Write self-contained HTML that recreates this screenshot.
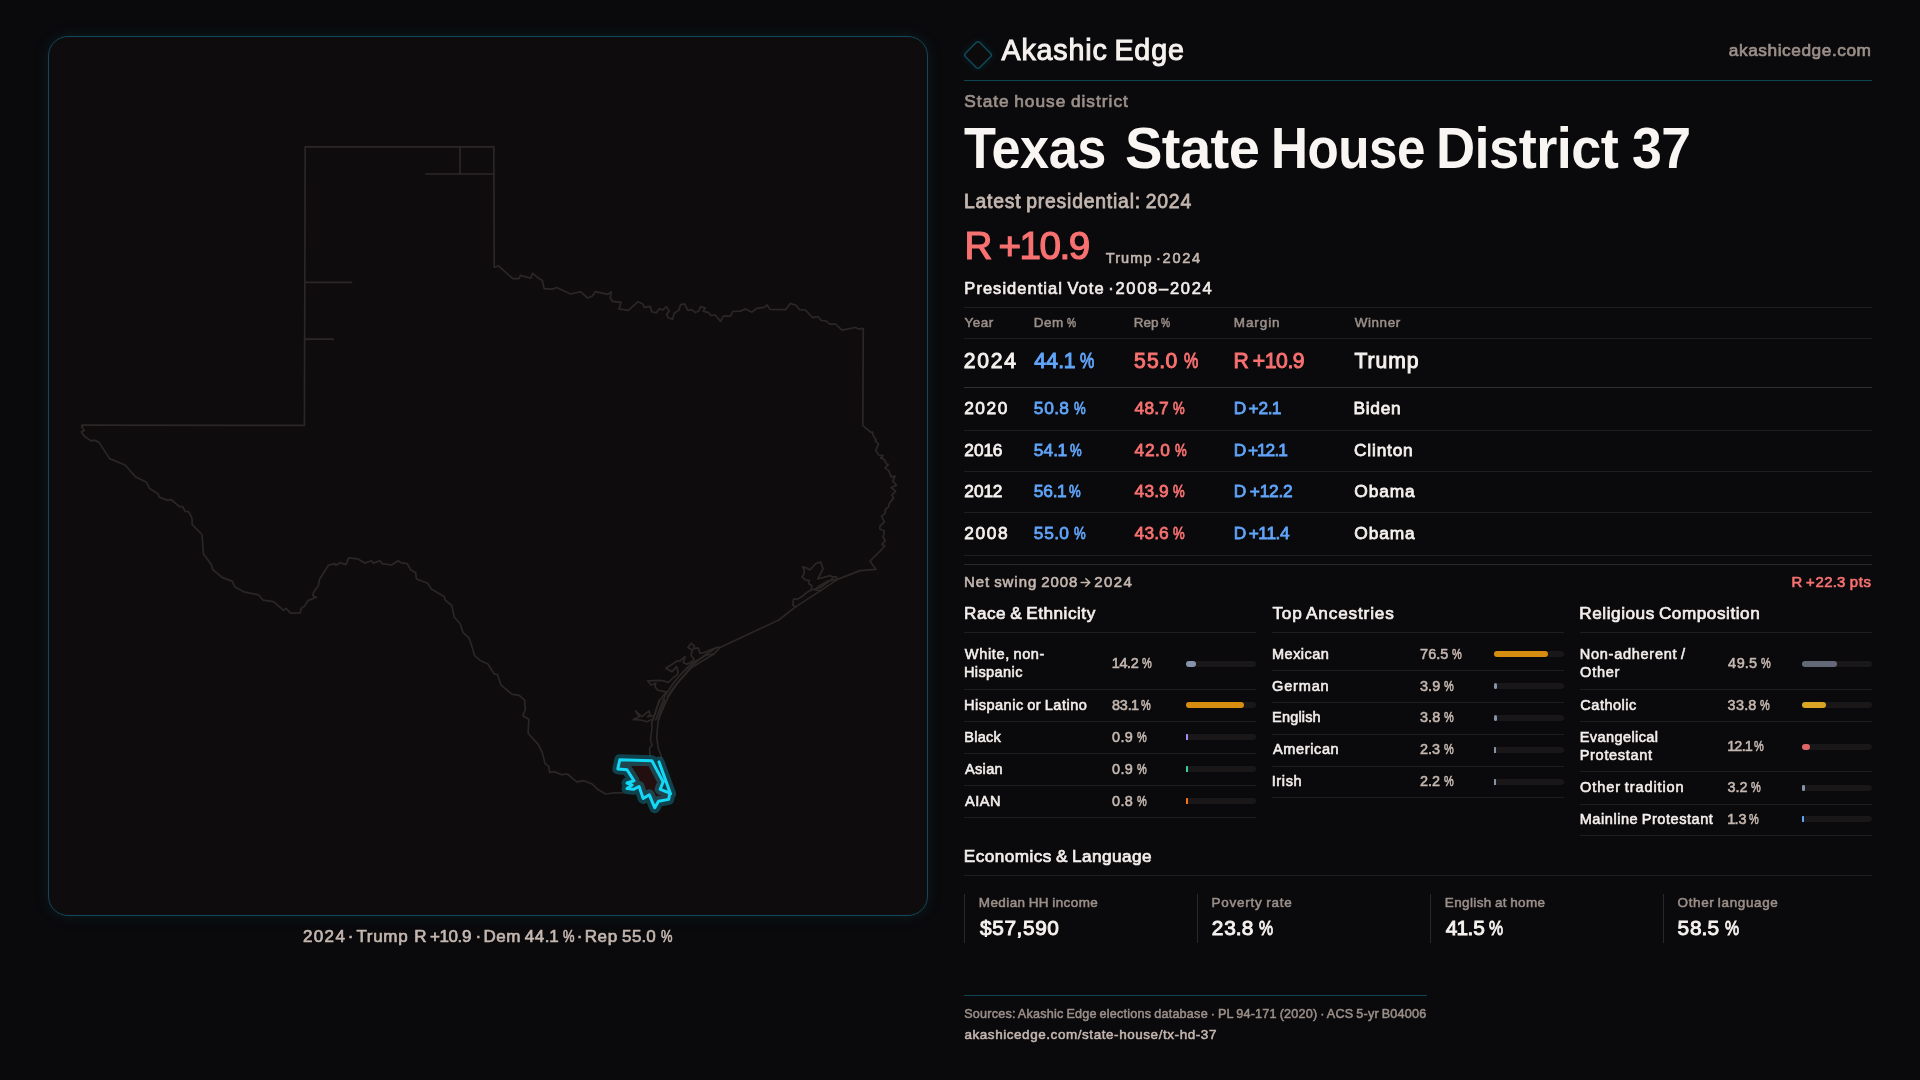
<!DOCTYPE html><html lang="en"><head><meta charset="utf-8"><title>Texas State House District 37</title><style>
html,body{margin:0;padding:0}body{width:1920px;height:1080px;overflow:hidden;background:#0a090b;position:relative;font-family:"Liberation Sans",sans-serif;}
.t{position:absolute;white-space:pre;line-height:1;paint-order:stroke fill;word-spacing:-.07em}
.b{font-weight:700}.r{position:absolute}.m{display:inline-block;width:0;height:0}#txt{position:absolute;left:0;top:0;width:1920px;height:1080px;will-change:transform}
#panel{position:absolute;left:48px;top:36px;width:878px;height:878px;border:1px solid #114a5a;border-radius:20px;background:#0e0c0d;box-shadow:0 0 14px 2px rgba(20,120,150,.13)}
</style></head><body>
<div id="panel"></div>
<svg class="r" style="left:0;top:0" width="960" height="1080" viewBox="0 0 960 1080" fill="none" stroke-linejoin="round" stroke-linecap="round">
<g stroke="#2b2726" stroke-width="1.7">
<path d="M81.8 425.2 L304.4 425.3 L305.2 146.9 L493.8 146.9 L494.2 267.3 L498.6 265.8 L512.8 278.7 L518.9 278.7 L520.5 275.4 L530.8 278.3 L532.5 273.3 L537.3 277.2 L542.3 280.5 L544.1 288.6 L552.2 289.2 L556.6 287.5 L570.8 294 L580.6 291.6 L587.6 298 L592 296.4 L595.5 291.6 L608 294.3 L611.3 291.8 L610.2 298 L612.4 301.3 L621.1 302.3 L618.9 308.9 L628.3 310.4 L638 301.7 L643 304.1 L644.1 307.4 L650.2 306.3 L651.7 311.8 L656.1 312.9 L659.4 308.9 L662.7 310 L666.4 306.7 L669.2 311.1 L666.6 314.4 L668.1 317.7 L672.5 319.2 L674.3 313.3 L678.6 310.4 L680.8 304.5 L684.6 303.9 L687.8 310.4 L691.8 309.6 L695.5 312.6 L698.8 311.1 L700.5 306.7 L705.3 307.8 L703.1 311.1 L708.6 312.6 L710.8 315.5 L715.2 315 L720.6 321.4 L723.3 316.1 L730.5 316.1 L732.7 311.5 L740.3 311.1 L745.8 308.9 L751.9 312.2 L756.7 308.3 L764.4 307.4 L767 304.8 L769.9 309.4 L785.8 309.6 L790.2 303.4 L796.1 305.2 L799.4 309.6 L805.5 310 L812.5 317.7 L818 316.6 L821.3 320.5 L825.7 320.9 L830 324.2 L835.5 324.2 L842.1 330.1 L849.7 328.6 L855.2 327.5 L859.6 329.3 L861.8 328.2 L863.3 329.3 L863.3 328.5 L862.8 425.6 L871.2 432.5 L872.5 431.9 L873.1 435.6 L876.2 440 L875.2 441.2 L878.5 443.8 L875.6 450.6 L878.8 455 L883.1 455.6 L880.6 458.1 L883.8 459 L886.9 464.4 L888.5 464.4 L885 468.1 L888.8 470.6 L891.2 476.9 L895 476.2 L892.8 481.2 L896.5 485.2 L891.2 487.5 L895.6 491.2 L891.9 495 L893.5 498.1 L889.4 503.1 L888.5 506.9 L885 510 L885.4 513.1 L881.5 516.2 L884.4 521.9 L880 526.2 L879.8 528.8 L884.4 531.2 L883.1 537.5 L885.2 540.6 L881.9 544.4 L884.8 546 L876.2 555 L881.2 550 L870 561.2 L876 569.4 L860 570.6 L837.5 579.4 L820.6 590.6 L795.6 606.9 L778.8 620 L720 647.4 L714.2 653.8 L691.7 667.5 L677.5 683.3 L668.3 696.7 L662.5 710 L658.3 720"/>
<path d="M837.5 579.4 L836.2 576.9 L832.5 576.9 L830 575.6 L817.8 579 L823.1 568.8 L820.6 561.9 L815.6 563.8 L810 570 L805.6 567.5 L802.5 566.9 L804.4 570 L803.8 574.4 L801.9 576.9 L805.6 580 L809.4 580.6 L808.8 583.8 L811.9 585.6 L811.2 590 L807.5 591.9 L802.5 596.2 L796.9 599.4 L795.6 598.8 L793.5 599.4 L792.8 605 L795.6 606.9"/>
<path d="M837.5 579.4 L827.5 581.2 L818.8 586.2 L815 590 L820.6 590.6"/>
<path d="M811.2 590 L820.6 587.5 L832.5 578.8"/>
<path d="M720 647.4 L716.7 647.5 L710 650 L704.2 652.5 L700 653.3 L698.3 647.9 L693.3 648.8 L694.6 646.2 L691.2 643.3 L687.9 647.5 L692.1 650 L691.2 655.8 L694.2 659.2 L691.7 661.7 L686.7 664.2 L683.3 662.5 L685 656.7 L680 660.8 L677.5 660.8 L665.8 668.3 L672.1 671.7 L676.7 666.7 L678.3 672.5 L676.7 675.4 L673.3 677.5 L668.3 682.5 L663.3 680.8 L659.2 680.4 L647.5 680.8 L651.2 685 L655.8 683.3 L655 686.7 L657.5 690 L666.7 692.1 L663.3 695.8 L660 700 L656.7 708.3 L654.2 716.7 L653.3 720"/>
<path d="M714.2 653.8 L706.7 655 L691.7 663.3 L681.7 673.3 L673.3 683.3 L665 695.8 L659.2 710 L655.8 720"/>
<path d="M716.7 647.5 L705 655 L692.5 665 L682.5 676.7 L674.2 686.7 L667.5 696.7"/>
<path d="M665 700 L660 712.5 L657.9 723.3 L656.7 737.5 L658.3 748.3 L661.7 757.5"/>
<path d="M659.2 700 L655.8 710.8 L653.3 718.3 L651.7 723.3 L652.1 727.5 L650.4 740 L652.1 745 L649.6 748.3 L650 755.8"/>
<path d="M653.3 718.3 L651.7 719.6 L646.7 721.7 L640.8 720 L633.3 719.6 L639.2 716.7 L635.4 710.8 L641.7 716.7 L649.2 710.8 L650 715 L647.5 716.7 L653.3 715.8"/>
<path d="M622.7 792.8 L614.3 792.8 L605.8 794 L597.4 789.2 L592.6 784.3 L584.2 780.7 L576.9 781.9 L567.3 774 L561.8 774.7 L554.1 771.6 L549.7 772.3 L548.8 766.3 L545.2 763.9 L542 751.8 L538.4 744.6 L528.1 733.3 L528.8 719.3 L522.8 715.7 L525.2 709.7 L524.7 700.1 L519.2 695.3 L511.9 694.1 L501.1 685.2 L497.5 674.8 L493.9 673.6 L487.9 664 L480.6 660.8 L474.6 655.6 L471 643.5 L468.6 637.5 L463.1 632.7 L460.2 623.8 L454.2 617 L451.8 605.5 L445.3 600.2 L444.1 596.6 L431.3 588.9 L427.7 583.3 L416.4 579 L415.6 572.5 L410.8 570.1 L407.2 563.6 L401.2 562.9 L398 560.7 L391.6 565 L381.9 563.6 L379.9 560.7 L373.5 563.1 L371.2 560.7 L364.9 563.1 L357.5 558.8 L348.8 557.8 L345.9 564.6 L340 562.7 L335.8 565.2 L334.6 563.6 L328.4 565.2 L319.6 579.2 L318.3 586 L313.8 591.8 L312.8 595.7 L316.3 597.3 L308 600.6 L304.7 606 L301.2 608.4 L300.2 612.8 L290.5 613.2 L286 608.4 L283.6 610.3 L273.5 601.6 L263.2 600.2 L258.4 594.8 L243.8 591.8 L235 587 L232.1 581.1 L222.4 577.6 L212.7 569.5 L211.3 564.6 L203.5 553.9 L202 534.5 L192.2 524.7 L191.9 517.9 L188.4 511.5 L185.4 511.5 L182.5 506.7 L179.6 506.7 L170.9 499.5 L167.9 500.4 L159.2 497.1 L158.2 494 L149.5 488.4 L146.5 482.3 L135.8 477.1 L125.1 465 L109.6 458.6 L98.9 442.1 L94 440.1 L91.5 441.1 L84.3 436.3 L81.4 431.8 L84.3 430.4 L81.8 427.1 L83.3 425.2"/>
<path d="M460 146.9 L460 174"/>
<path d="M425.8 174 L493.8 174"/>
<path d="M305 282.4 L351.6 282.4"/>
<path d="M304.8 339.2 L333.3 339.2"/>
</g>
<path d="M619.8 759.8 L651.9 760.7 L663.1 781.9 L660.2 789.3 L669.8 793 L668.7 799.4 L658.5 801.3 L654.8 807.8 L649.3 794.8 L643.2 798.5 L639.1 786.5 L633.5 789.3 L627 788.5 L632.1 785.1 L627 783 L634 780.7 L627 769.8 L617.8 768.9 Z" fill="#230f10" stroke="none"/>
<g stroke="#14d8f6"><path d="M619.8 759.8 L651.9 760.7 L663.1 781.9 L660.2 789.3 L669.8 793 L668.7 799.4 L658.5 801.3 L654.8 807.8 L649.3 794.8 L643.2 798.5 L639.1 786.5 L633.5 789.3 L627 788.5 L632.1 785.1 L627 783 L634 780.7 L627 769.8 L617.8 768.9 Z M659 761.9 L670.6 793.9" stroke-width="11" stroke-opacity=".27"/>
<path d="M619.8 759.8 L651.9 760.7 L663.1 781.9 L660.2 789.3 L669.8 793 L668.7 799.4 L658.5 801.3 L654.8 807.8 L649.3 794.8 L643.2 798.5 L639.1 786.5 L633.5 789.3 L627 788.5 L632.1 785.1 L627 783 L634 780.7 L627 769.8 L617.8 768.9 Z M659 761.9 L670.6 793.9" stroke-width="3"/></g>
</svg>
<svg class="r" style="left:955.75px;top:33px" width="44" height="44" viewBox="0 0 44 44"><defs><filter id="g" x="-50%" y="-50%" width="200%" height="200%"><feGaussianBlur stdDeviation="3"/></filter></defs><rect x="12" y="12" width="20" height="20" rx="2.5" transform="rotate(45 22 22)" fill="none" stroke="#0f5468" stroke-width="3" opacity=".35" filter="url(#g)"/><rect x="11.95" y="11.95" width="20.1" height="20.1" rx="2.5" transform="rotate(45 22 22)" fill="#0c0a0b" stroke="#0f4a5a" stroke-width="1.5"/></svg>
<div class="r" style="left:964px;top:80px;width:908px;height:1px;background:#0f4552"></div>
<div class="r" style="left:964px;top:307px;width:908px;height:1px;background:#201d1e"></div>
<div class="r" style="left:964px;top:338px;width:908px;height:1px;background:#201d1e"></div>
<div class="r" style="left:964px;top:387px;width:908px;height:1px;background:#322f30"></div>
<div class="r" style="left:964px;top:430px;width:908px;height:1px;background:#201d1e"></div>
<div class="r" style="left:964px;top:471px;width:908px;height:1px;background:#201d1e"></div>
<div class="r" style="left:964px;top:512px;width:908px;height:1px;background:#201d1e"></div>
<div class="r" style="left:964px;top:555px;width:908px;height:1px;background:#201d1e"></div>
<div class="r" style="left:964px;top:564px;width:908px;height:1px;background:#2a2728"></div>
<div class="r" style="left:964px;top:632px;width:292px;height:1px;background:#201d1e"></div>
<div class="r" style="left:1272px;top:632px;width:292px;height:1px;background:#201d1e"></div>
<div class="r" style="left:1580px;top:632px;width:292px;height:1px;background:#201d1e"></div>
<div class="r" style="left:964px;top:689px;width:292px;height:1px;background:#201d1e"></div>
<div class="r" style="left:964px;top:721px;width:292px;height:1px;background:#201d1e"></div>
<div class="r" style="left:964px;top:753px;width:292px;height:1px;background:#201d1e"></div>
<div class="r" style="left:964px;top:785px;width:292px;height:1px;background:#201d1e"></div>
<div class="r" style="left:964px;top:817px;width:292px;height:1px;background:#201d1e"></div>
<div class="r" style="left:1272px;top:670px;width:292px;height:1px;background:#201d1e"></div>
<div class="r" style="left:1272px;top:702px;width:292px;height:1px;background:#201d1e"></div>
<div class="r" style="left:1272px;top:734px;width:292px;height:1px;background:#201d1e"></div>
<div class="r" style="left:1272px;top:766px;width:292px;height:1px;background:#201d1e"></div>
<div class="r" style="left:1272px;top:797px;width:292px;height:1px;background:#201d1e"></div>
<div class="r" style="left:1580px;top:689px;width:292px;height:1px;background:#201d1e"></div>
<div class="r" style="left:1580px;top:721px;width:292px;height:1px;background:#201d1e"></div>
<div class="r" style="left:1580px;top:771px;width:292px;height:1px;background:#201d1e"></div>
<div class="r" style="left:1580px;top:804px;width:292px;height:1px;background:#201d1e"></div>
<div class="r" style="left:1580px;top:835px;width:292px;height:1px;background:#201d1e"></div>
<div class="r" style="left:964px;top:875px;width:908px;height:1px;background:#201d1e"></div>
<div class="r" style="left:964px;top:894px;width:1px;height:49px;background:#2a2728"></div>
<div class="r" style="left:1197px;top:894px;width:1px;height:49px;background:#2a2728"></div>
<div class="r" style="left:1430px;top:894px;width:1px;height:49px;background:#2a2728"></div>
<div class="r" style="left:1663px;top:894px;width:1px;height:49px;background:#2a2728"></div>
<div class="r" style="left:964px;top:995px;width:463px;height:1px;background:#0f4552"></div>
<div class="r" style="left:1186px;top:661px;width:70px;height:6px;background:#191718;border-radius:3px"></div>
<div class="r" style="left:1186px;top:661px;width:9.94px;height:6px;background:#8693a8;border-radius:3px"></div>
<div class="r" style="left:1186px;top:702px;width:70px;height:6px;background:#191718;border-radius:3px"></div>
<div class="r" style="left:1186px;top:702px;width:58.17px;height:6px;background:#d68d10;border-radius:3px"></div>
<div class="r" style="left:1186px;top:734px;width:70px;height:6px;background:#191718;border-radius:3px"></div>
<div class="r" style="left:1186px;top:734px;width:1.5px;height:6px;background:#a78bfa;border-radius:0.5px"></div>
<div class="r" style="left:1186px;top:766px;width:70px;height:6px;background:#191718;border-radius:3px"></div>
<div class="r" style="left:1186px;top:766px;width:1.5px;height:6px;background:#34d399;border-radius:0.5px"></div>
<div class="r" style="left:1186px;top:798px;width:70px;height:6px;background:#191718;border-radius:3px"></div>
<div class="r" style="left:1186px;top:798px;width:1.5px;height:6px;background:#f97316;border-radius:0.5px"></div>
<div class="r" style="left:1494px;top:651px;width:70px;height:6px;background:#191718;border-radius:3px"></div>
<div class="r" style="left:1494px;top:651px;width:53.55px;height:6px;background:#d68d10;border-radius:3px"></div>
<div class="r" style="left:1494px;top:683px;width:70px;height:6px;background:#191718;border-radius:3px"></div>
<div class="r" style="left:1494px;top:683px;width:3.2px;height:6px;background:#8693a8;border-radius:1.6px"></div>
<div class="r" style="left:1494px;top:715px;width:70px;height:6px;background:#191718;border-radius:3px"></div>
<div class="r" style="left:1494px;top:715px;width:3.2px;height:6px;background:#8693a8;border-radius:1.6px"></div>
<div class="r" style="left:1494px;top:747px;width:70px;height:6px;background:#191718;border-radius:3px"></div>
<div class="r" style="left:1494px;top:747px;width:2.1px;height:6px;background:#8693a8;border-radius:0.5px"></div>
<div class="r" style="left:1494px;top:779px;width:70px;height:6px;background:#191718;border-radius:3px"></div>
<div class="r" style="left:1494px;top:779px;width:2px;height:6px;background:#8693a8;border-radius:0.5px"></div>
<div class="r" style="left:1802px;top:661px;width:70px;height:6px;background:#191718;border-radius:3px"></div>
<div class="r" style="left:1802px;top:661px;width:34.65px;height:6px;background:#626876;border-radius:3px"></div>
<div class="r" style="left:1802px;top:702px;width:70px;height:6px;background:#191718;border-radius:3px"></div>
<div class="r" style="left:1802px;top:702px;width:23.66px;height:6px;background:#d8a624;border-radius:3px"></div>
<div class="r" style="left:1802px;top:744px;width:70px;height:6px;background:#191718;border-radius:3px"></div>
<div class="r" style="left:1802px;top:744px;width:8.47px;height:6px;background:#de6668;border-radius:3px"></div>
<div class="r" style="left:1802px;top:785px;width:70px;height:6px;background:#191718;border-radius:3px"></div>
<div class="r" style="left:1802px;top:785px;width:2.7px;height:6px;background:#8693a8;border-radius:1.35px"></div>
<div class="r" style="left:1802px;top:816px;width:70px;height:6px;background:#191718;border-radius:3px"></div>
<div class="r" style="left:1802px;top:816px;width:1.5px;height:6px;background:#60a5fa;border-radius:0.5px"></div>
<svg class="r" style="left:1079px;top:576px" width="13" height="13" viewBox="0 0 13 13" fill="none" stroke="#c4b7b0" stroke-width="1.6" stroke-linecap="round" stroke-linejoin="round"><path d="M2.2 6.5H10.4M6.9 2.7L10.7 6.5L6.9 10.3"/></svg>
<div id="txt">
<div class="t" style="left:1001.49px;top:36.01px;font-size:28.63px;color:#f5f1ee;-webkit-text-stroke:1px #f5f1ee;letter-spacing:0.845px">Akashic Edge</div>
<div class="t" style="left:1728.87px;top:42.01px;font-size:17.31px;color:#9b8f89;-webkit-text-stroke:0.69px #9b8f89;letter-spacing:0.539px">akashicedge.com</div>
<div class="t" style="left:964.34px;top:93px;font-size:17.31px;color:#9b8f89;-webkit-text-stroke:0.69px #9b8f89;letter-spacing:0.991px">State house district</div>
<div class="t b" style="left:964.27px;top:120.01px;font-size:57.56px;color:#f8f5f2;letter-spacing:-0.6px;transform:scaleX(0.9094);transform-origin:0 0">Texas</div>
<div class="t b" style="left:1124.69px;top:120.01px;font-size:57.56px;color:#f8f5f2;letter-spacing:-0.6px;transform:scaleX(0.9755);transform-origin:0 0">State</div>
<div class="t b" style="left:1271.44px;top:120.01px;font-size:57.56px;color:#f8f5f2;letter-spacing:-0.6px;transform:scaleX(0.8898);transform-origin:0 0">House</div>
<div class="t b" style="left:1436.08px;top:120.01px;font-size:57.56px;color:#f8f5f2;letter-spacing:-0.6px;transform:scaleX(0.9421);transform-origin:0 0">District</div>
<div class="t b" style="left:1631.69px;top:120.01px;font-size:57.56px;color:#f8f5f2;letter-spacing:-0.6px;transform:scaleX(0.9329);transform-origin:0 0">37</div>
<div class="t" style="left:963.99px;top:192px;font-size:19.37px;color:#c4b7b0;-webkit-text-stroke:0.77px #c4b7b0;letter-spacing:0.789px">Latest presidential: 2024</div>
<div class="t" style="left:964.41px;top:227px;font-size:38.61px;color:#f87171;-webkit-text-stroke:1.24px #f87171;letter-spacing:-0.156px">R<span style="margin-left:-.04em"> </span>+<span style="margin:0 -.035em 0 -.035em">1</span>0<span style="margin:0 -.035em">.</span>9</div>
<div class="t" style="left:1105.78px;top:251.01px;font-size:14.56px;color:#c4b7b0;-webkit-text-stroke:0.58px #c4b7b0;letter-spacing:1.055px">Trump</div>
<div class="t" style="left:1156.12px;top:251.01px;font-size:14.56px;color:#c4b7b0;-webkit-text-stroke:0.58px #c4b7b0">·</div>
<div class="t" style="left:1162.54px;top:251.01px;font-size:14.56px;color:#c4b7b0;-webkit-text-stroke:0.58px #c4b7b0;letter-spacing:1.759px">2024</div>
<div class="t" style="left:964.35px;top:280px;font-size:16.48px;color:#f3eeeb;-webkit-text-stroke:0.66px #f3eeeb;letter-spacing:1.048px">Presidential Vote</div>
<div class="t" style="left:1108.36px;top:280px;font-size:16.48px;color:#f3eeeb;-webkit-text-stroke:0.66px #f3eeeb">·</div>
<div class="t" style="left:1115.46px;top:280px;font-size:16.48px;color:#f3eeeb;-webkit-text-stroke:0.66px #f3eeeb;letter-spacing:1.73px">2008–2024</div>
<div class="t" style="left:964.42px;top:316px;font-size:13.46px;color:#9b8f89;-webkit-text-stroke:0.54px #9b8f89;letter-spacing:0.51px">Year</div>
<div class="t" style="left:1033.8px;top:316px;font-size:13.46px;color:#9b8f89;-webkit-text-stroke:0.54px #9b8f89;letter-spacing:0.558px">Dem <span style="display:inline-block;transform:scaleX(.76);transform-origin:0 50%;margin-right:-.21em">%</span></div>
<div class="t" style="left:1133.8px;top:316px;font-size:13.46px;color:#9b8f89;-webkit-text-stroke:0.54px #9b8f89;letter-spacing:-0.012px">Rep <span style="display:inline-block;transform:scaleX(.76);transform-origin:0 50%;margin-right:-.21em">%</span></div>
<div class="t" style="left:1233.79px;top:316px;font-size:13.46px;color:#9b8f89;-webkit-text-stroke:0.54px #9b8f89;letter-spacing:0.933px">Margin</div>
<div class="t" style="left:1354.81px;top:316px;font-size:13.46px;color:#9b8f89;-webkit-text-stroke:0.54px #9b8f89;letter-spacing:0.545px">Winner</div>
<div class="t" style="left:963.66px;top:350px;font-size:21.15px;color:#f5f1ee;-webkit-text-stroke:0.95px #f5f1ee;letter-spacing:1.742px">2024</div>
<div class="t" style="left:1034.19px;top:350px;font-size:21.15px;color:#60a5fa;-webkit-text-stroke:0.95px #60a5fa;letter-spacing:0.304px">44.<span style="margin:0 -.035em 0 -.035em">1</span> <span style="display:inline-block;transform:scaleX(.76);transform-origin:0 50%;margin-right:-.21em">%</span></div>
<div class="t" style="left:1134.09px;top:350px;font-size:21.15px;color:#f87171;-webkit-text-stroke:0.95px #f87171;letter-spacing:1.128px">55<span style="margin:0 -.035em">.</span>0 <span style="display:inline-block;transform:scaleX(.76);transform-origin:0 50%;margin-right:-.21em">%</span></div>
<div class="t" style="left:1233.46px;top:350px;font-size:21.15px;color:#f87171;-webkit-text-stroke:0.95px #f87171;letter-spacing:0.285px">R<span style="margin-left:-.04em"> </span>+<span style="margin:0 -.035em 0 -.035em">1</span>0<span style="margin:0 -.035em">.</span>9</div>
<div class="t" style="left:1354.49px;top:350px;font-size:21.15px;color:#f5f1ee;-webkit-text-stroke:0.95px #f5f1ee;letter-spacing:0.909px">Trump</div>
<div class="t" style="left:964.13px;top:400px;font-size:17.33px;color:#f5f1ee;-webkit-text-stroke:0.78px #f5f1ee;letter-spacing:1.563px">2020</div>
<div class="t" style="left:1033.86px;top:400px;font-size:17.33px;color:#60a5fa;-webkit-text-stroke:0.78px #60a5fa;letter-spacing:0.851px">50<span style="margin:0 -.035em">.</span>8 <span style="display:inline-block;transform:scaleX(.76);transform-origin:0 50%;margin-right:-.21em">%</span></div>
<div class="t" style="left:1134.39px;top:400px;font-size:17.33px;color:#f87171;-webkit-text-stroke:0.78px #f87171;letter-spacing:0.55px">48<span style="margin:0 -.035em">.</span>7 <span style="display:inline-block;transform:scaleX(.76);transform-origin:0 50%;margin-right:-.21em">%</span></div>
<div class="t" style="left:1233.63px;top:400px;font-size:17.33px;color:#60a5fa;-webkit-text-stroke:0.78px #60a5fa;letter-spacing:-0.239px">D<span style="margin-left:-.04em"> </span>+2.<span style="margin:0 -.035em 0 -.035em">1</span></div>
<div class="t" style="left:1353.42px;top:400px;font-size:17.33px;color:#f5f1ee;-webkit-text-stroke:0.78px #f5f1ee;letter-spacing:0.741px">Biden</div>
<div class="t" style="left:964.13px;top:442.01px;font-size:17.33px;color:#f5f1ee;-webkit-text-stroke:0.78px #f5f1ee;letter-spacing:0.285px">20<span style="margin:0 -.035em 0 -.035em">1</span>6</div>
<div class="t" style="left:1033.86px;top:442.01px;font-size:17.33px;color:#60a5fa;-webkit-text-stroke:0.78px #60a5fa;letter-spacing:0.054px">54.<span style="margin:0 -.035em 0 -.035em">1</span> <span style="display:inline-block;transform:scaleX(.76);transform-origin:0 50%;margin-right:-.21em">%</span></div>
<div class="t" style="left:1134.39px;top:442.01px;font-size:17.33px;color:#f87171;-webkit-text-stroke:0.78px #f87171;letter-spacing:0.95px">42<span style="margin:0 -.035em">.</span>0 <span style="display:inline-block;transform:scaleX(.76);transform-origin:0 50%;margin-right:-.21em">%</span></div>
<div class="t" style="left:1233.63px;top:442.01px;font-size:17.33px;color:#60a5fa;-webkit-text-stroke:0.78px #60a5fa;letter-spacing:-0.554px">D<span style="margin-left:-.04em"> </span>+<span style="margin:0 -.035em 0 -.035em">1</span>2.<span style="margin:0 -.035em 0 -.035em">1</span></div>
<div class="t" style="left:1354.08px;top:442.01px;font-size:17.33px;color:#f5f1ee;-webkit-text-stroke:0.78px #f5f1ee;letter-spacing:0.779px">Clinton</div>
<div class="t" style="left:964.13px;top:483px;font-size:17.33px;color:#f5f1ee;-webkit-text-stroke:0.78px #f5f1ee;letter-spacing:0.293px">20<span style="margin:0 -.035em 0 -.035em">1</span>2</div>
<div class="t" style="left:1033.86px;top:483px;font-size:17.33px;color:#60a5fa;-webkit-text-stroke:0.78px #60a5fa;letter-spacing:-0.146px">56.<span style="margin:0 -.035em 0 -.035em">1</span> <span style="display:inline-block;transform:scaleX(.76);transform-origin:0 50%;margin-right:-.21em">%</span></div>
<div class="t" style="left:1134.39px;top:483px;font-size:17.33px;color:#f87171;-webkit-text-stroke:0.78px #f87171;letter-spacing:0.55px">43<span style="margin:0 -.035em">.</span>9 <span style="display:inline-block;transform:scaleX(.76);transform-origin:0 50%;margin-right:-.21em">%</span></div>
<div class="t" style="left:1233.63px;top:483px;font-size:17.33px;color:#60a5fa;-webkit-text-stroke:0.78px #60a5fa;letter-spacing:0.347px">D<span style="margin-left:-.04em"> </span>+<span style="margin:0 -.035em 0 -.035em">1</span>2<span style="margin:0 -.035em">.</span>2</div>
<div class="t" style="left:1354.24px;top:483px;font-size:17.33px;color:#f5f1ee;-webkit-text-stroke:0.78px #f5f1ee;letter-spacing:0.913px">Obama</div>
<div class="t" style="left:964.13px;top:525.01px;font-size:17.33px;color:#f5f1ee;-webkit-text-stroke:0.78px #f5f1ee;letter-spacing:1.661px">2008</div>
<div class="t" style="left:1033.86px;top:525.01px;font-size:17.33px;color:#60a5fa;-webkit-text-stroke:0.78px #60a5fa;letter-spacing:0.851px">55<span style="margin:0 -.035em">.</span>0 <span style="display:inline-block;transform:scaleX(.76);transform-origin:0 50%;margin-right:-.21em">%</span></div>
<div class="t" style="left:1134.39px;top:525.01px;font-size:17.33px;color:#f87171;-webkit-text-stroke:0.78px #f87171;letter-spacing:0.55px">43<span style="margin:0 -.035em">.</span>6 <span style="display:inline-block;transform:scaleX(.76);transform-origin:0 50%;margin-right:-.21em">%</span></div>
<div class="t" style="left:1233.63px;top:525.01px;font-size:17.33px;color:#60a5fa;-webkit-text-stroke:0.78px #60a5fa;letter-spacing:-0.147px">D<span style="margin-left:-.04em"> </span>+<span style="margin:0 -.035em 0 -.035em">1</span><span style="margin:0 -.035em 0 -.035em">1</span>.4</div>
<div class="t" style="left:1354.24px;top:525.01px;font-size:17.33px;color:#f5f1ee;-webkit-text-stroke:0.78px #f5f1ee;letter-spacing:0.913px">Obama</div>
<div class="t" style="left:964px;top:575.01px;font-size:14.97px;color:#c4b7b0;-webkit-text-stroke:0.6px #c4b7b0;letter-spacing:0.946px">Net swing 2008</div>
<div class="t" style="left:1094.13px;top:575.01px;font-size:14.97px;color:#c4b7b0;-webkit-text-stroke:0.6px #c4b7b0;letter-spacing:1.432px">2024</div>
<div class="t" style="left:1791.56px;top:575.01px;font-size:14.87px;color:#f87171;-webkit-text-stroke:0.67px #f87171;letter-spacing:0.657px">R<span style="margin-left:-.04em"> </span>+22<span style="margin:0 -.035em">.</span>3 pts</div>
<div class="t" style="left:964.09px;top:605px;font-size:17.17px;color:#f3eeeb;-webkit-text-stroke:0.69px #f3eeeb;letter-spacing:0.511px">Race &amp; Ethnicity</div>
<div class="t" style="left:1272.41px;top:605px;font-size:17.17px;color:#f3eeeb;-webkit-text-stroke:0.69px #f3eeeb;letter-spacing:0.847px">Top Ancestries</div>
<div class="t" style="left:1579.34px;top:605px;font-size:17.17px;color:#f3eeeb;-webkit-text-stroke:0.69px #f3eeeb;letter-spacing:0.545px">Religious Composition</div>
<div class="t" style="left:964.86px;top:647.01px;font-size:14.56px;color:#f3eeeb;-webkit-text-stroke:0.58px #f3eeeb;letter-spacing:0.617px">White, non-</div>
<div class="t" style="left:963.88px;top:665.01px;font-size:14.56px;color:#f3eeeb;-webkit-text-stroke:0.58px #f3eeeb;letter-spacing:0.405px">Hispanic</div>
<div class="t" style="left:1112.18px;top:656.01px;font-size:14.42px;color:#c4b7b0;-webkit-text-stroke:0.58px #c4b7b0;letter-spacing:0.198px"><span style="margin:0 -.035em 0 -.035em">1</span>4<span style="margin:0 -.035em">.</span>2 <span style="display:inline-block;transform:scaleX(.76);transform-origin:0 50%;margin-right:-.21em">%</span></div>
<div class="t" style="left:963.88px;top:698.01px;font-size:14.56px;color:#f3eeeb;-webkit-text-stroke:0.58px #f3eeeb;letter-spacing:0.508px">Hispanic or Latino</div>
<div class="t" style="left:1111.9px;top:698.01px;font-size:14.42px;color:#c4b7b0;-webkit-text-stroke:0.58px #c4b7b0;letter-spacing:-0.143px">83.<span style="margin:0 -.035em 0 -.035em">1</span> <span style="display:inline-block;transform:scaleX(.76);transform-origin:0 50%;margin-right:-.21em">%</span></div>
<div class="t" style="left:964.24px;top:730.01px;font-size:14.56px;color:#f3eeeb;-webkit-text-stroke:0.58px #f3eeeb;letter-spacing:0.256px">Black</div>
<div class="t" style="left:1112.11px;top:730.01px;font-size:14.42px;color:#c4b7b0;-webkit-text-stroke:0.58px #c4b7b0;letter-spacing:0.771px">0<span style="margin:0 -.035em">.</span>9 <span style="display:inline-block;transform:scaleX(.76);transform-origin:0 50%;margin-right:-.21em">%</span></div>
<div class="t" style="left:964.9px;top:762.01px;font-size:14.56px;color:#f3eeeb;-webkit-text-stroke:0.58px #f3eeeb;letter-spacing:0.349px">Asian</div>
<div class="t" style="left:1112.11px;top:762.01px;font-size:14.42px;color:#c4b7b0;-webkit-text-stroke:0.58px #c4b7b0;letter-spacing:0.771px">0<span style="margin:0 -.035em">.</span>9 <span style="display:inline-block;transform:scaleX(.76);transform-origin:0 50%;margin-right:-.21em">%</span></div>
<div class="t" style="left:964.9px;top:794.02px;font-size:14.56px;color:#f3eeeb;-webkit-text-stroke:0.58px #f3eeeb;letter-spacing:0.569px">AIAN</div>
<div class="t" style="left:1112.11px;top:794.01px;font-size:14.42px;color:#c4b7b0;-webkit-text-stroke:0.58px #c4b7b0;letter-spacing:0.771px">0<span style="margin:0 -.035em">.</span>8 <span style="display:inline-block;transform:scaleX(.76);transform-origin:0 50%;margin-right:-.21em">%</span></div>
<div class="t" style="left:1272.03px;top:647.01px;font-size:14.56px;color:#f3eeeb;-webkit-text-stroke:0.58px #f3eeeb;letter-spacing:0.452px">Mexican</div>
<div class="t" style="left:1419.92px;top:647.01px;font-size:14.42px;color:#c4b7b0;-webkit-text-stroke:0.58px #c4b7b0;letter-spacing:0.452px">76<span style="margin:0 -.035em">.</span>5 <span style="display:inline-block;transform:scaleX(.76);transform-origin:0 50%;margin-right:-.21em">%</span></div>
<div class="t" style="left:1272.06px;top:679.01px;font-size:14.56px;color:#f3eeeb;-webkit-text-stroke:0.58px #f3eeeb;letter-spacing:0.813px">German</div>
<div class="t" style="left:1420.01px;top:679.02px;font-size:14.42px;color:#c4b7b0;-webkit-text-stroke:0.58px #c4b7b0;letter-spacing:0.545px">3<span style="margin:0 -.035em">.</span>9 <span style="display:inline-block;transform:scaleX(.76);transform-origin:0 50%;margin-right:-.21em">%</span></div>
<div class="t" style="left:1272.04px;top:710.02px;font-size:14.56px;color:#f3eeeb;-webkit-text-stroke:0.58px #f3eeeb;letter-spacing:0.155px">English</div>
<div class="t" style="left:1420.01px;top:710.01px;font-size:14.42px;color:#c4b7b0;-webkit-text-stroke:0.58px #c4b7b0;letter-spacing:0.545px">3<span style="margin:0 -.035em">.</span>8 <span style="display:inline-block;transform:scaleX(.76);transform-origin:0 50%;margin-right:-.21em">%</span></div>
<div class="t" style="left:1272.98px;top:742.01px;font-size:14.56px;color:#f3eeeb;-webkit-text-stroke:0.58px #f3eeeb;letter-spacing:0.609px">American</div>
<div class="t" style="left:1419.95px;top:742.02px;font-size:14.42px;color:#c4b7b0;-webkit-text-stroke:0.58px #c4b7b0;letter-spacing:0.56px">2<span style="margin:0 -.035em">.</span>3 <span style="display:inline-block;transform:scaleX(.76);transform-origin:0 50%;margin-right:-.21em">%</span></div>
<div class="t" style="left:1271.67px;top:774.02px;font-size:14.56px;color:#f3eeeb;-webkit-text-stroke:0.58px #f3eeeb;letter-spacing:0.632px">Irish</div>
<div class="t" style="left:1419.95px;top:774.01px;font-size:14.42px;color:#c4b7b0;-webkit-text-stroke:0.58px #c4b7b0;letter-spacing:0.56px">2<span style="margin:0 -.035em">.</span>2 <span style="display:inline-block;transform:scaleX(.76);transform-origin:0 50%;margin-right:-.21em">%</span></div>
<div class="t" style="left:1579.72px;top:647.01px;font-size:14.56px;color:#f3eeeb;-webkit-text-stroke:0.58px #f3eeeb;letter-spacing:0.72px">Non-adherent /</div>
<div class="t" style="left:1580.12px;top:665.01px;font-size:14.56px;color:#f3eeeb;-webkit-text-stroke:0.58px #f3eeeb;letter-spacing:0.737px">Other</div>
<div class="t" style="left:1728.02px;top:656.01px;font-size:14.42px;color:#c4b7b0;-webkit-text-stroke:0.58px #c4b7b0;letter-spacing:0.631px">49<span style="margin:0 -.035em">.</span>5 <span style="display:inline-block;transform:scaleX(.76);transform-origin:0 50%;margin-right:-.21em">%</span></div>
<div class="t" style="left:1580.31px;top:698.01px;font-size:14.56px;color:#f3eeeb;-webkit-text-stroke:0.58px #f3eeeb;letter-spacing:0.494px">Catholic</div>
<div class="t" style="left:1727.58px;top:698.01px;font-size:14.42px;color:#c4b7b0;-webkit-text-stroke:0.58px #c4b7b0;letter-spacing:0.518px">33<span style="margin:0 -.035em">.</span>8 <span style="display:inline-block;transform:scaleX(.76);transform-origin:0 50%;margin-right:-.21em">%</span></div>
<div class="t" style="left:1579.72px;top:730.01px;font-size:14.56px;color:#f3eeeb;-webkit-text-stroke:0.58px #f3eeeb;letter-spacing:0.391px">Evangelical</div>
<div class="t" style="left:1579.72px;top:748.02px;font-size:14.56px;color:#f3eeeb;-webkit-text-stroke:0.58px #f3eeeb;letter-spacing:0.674px">Protestant</div>
<div class="t" style="left:1727.67px;top:739.01px;font-size:14.42px;color:#c4b7b0;-webkit-text-stroke:0.58px #c4b7b0;letter-spacing:-0.496px"><span style="margin:0 -.035em 0 -.035em">1</span>2.<span style="margin:0 -.035em 0 -.035em">1</span> <span style="display:inline-block;transform:scaleX(.76);transform-origin:0 50%;margin-right:-.21em">%</span></div>
<div class="t" style="left:1580.12px;top:780.02px;font-size:14.56px;color:#f3eeeb;-webkit-text-stroke:0.58px #f3eeeb;letter-spacing:0.887px">Other tradition</div>
<div class="t" style="left:1727.58px;top:780.01px;font-size:14.42px;color:#c4b7b0;-webkit-text-stroke:0.58px #c4b7b0;letter-spacing:0.402px">3<span style="margin:0 -.035em">.</span>2 <span style="display:inline-block;transform:scaleX(.76);transform-origin:0 50%;margin-right:-.21em">%</span></div>
<div class="t" style="left:1579.71px;top:812.02px;font-size:14.56px;color:#f3eeeb;-webkit-text-stroke:0.58px #f3eeeb;letter-spacing:0.536px">Mainline Protestant</div>
<div class="t" style="left:1727.67px;top:812.01px;font-size:14.42px;color:#c4b7b0;-webkit-text-stroke:0.58px #c4b7b0;letter-spacing:-0.116px"><span style="margin:0 -.035em 0 -.035em">1</span>.3 <span style="display:inline-block;transform:scaleX(.76);transform-origin:0 50%;margin-right:-.21em">%</span></div>
<div class="t" style="left:963.8px;top:848px;font-size:17.17px;color:#f3eeeb;-webkit-text-stroke:0.69px #f3eeeb;letter-spacing:0.468px">Economics &amp; Language</div>
<div class="t" style="left:978.81px;top:896.01px;font-size:13.46px;color:#9b8f89;-webkit-text-stroke:0.54px #9b8f89;letter-spacing:0.429px">Median HH income</div>
<div class="t" style="left:1211.4px;top:896.01px;font-size:13.46px;color:#9b8f89;-webkit-text-stroke:0.54px #9b8f89;letter-spacing:0.797px">Poverty rate</div>
<div class="t" style="left:1444.79px;top:896.01px;font-size:13.46px;color:#9b8f89;-webkit-text-stroke:0.54px #9b8f89;letter-spacing:0.407px">English at home</div>
<div class="t" style="left:1677.55px;top:896.01px;font-size:13.46px;color:#9b8f89;-webkit-text-stroke:0.54px #9b8f89;letter-spacing:0.646px">Other language</div>
<div class="t" style="left:980.06px;top:918.01px;font-size:20.87px;color:#f5f1ee;-webkit-text-stroke:0.94px #f5f1ee;letter-spacing:0.585px">$57,590</div>
<div class="t" style="left:1211.81px;top:918.01px;font-size:20.87px;color:#f5f1ee;-webkit-text-stroke:0.94px #f5f1ee;letter-spacing:0.767px">23<span style="margin:0 -.035em">.</span>8 <span style="display:inline-block;transform:scaleX(.76);transform-origin:0 50%;margin-right:-.21em">%</span></div>
<div class="t" style="left:1445.67px;top:918.01px;font-size:20.87px;color:#f5f1ee;-webkit-text-stroke:0.94px #f5f1ee;letter-spacing:-0.007px">4<span style="margin:0 -.035em 0 -.035em">1</span>.5 <span style="display:inline-block;transform:scaleX(.76);transform-origin:0 50%;margin-right:-.21em">%</span></div>
<div class="t" style="left:1677.44px;top:918.01px;font-size:20.87px;color:#f5f1ee;-webkit-text-stroke:0.94px #f5f1ee;letter-spacing:0.842px">58<span style="margin:0 -.035em">.</span>5 <span style="display:inline-block;transform:scaleX(.76);transform-origin:0 50%;margin-right:-.21em">%</span></div>
<div class="t" style="left:964.15px;top:1008px;font-size:12.64px;color:#9b8f89;-webkit-text-stroke:0.51px #9b8f89;letter-spacing:0.216px">Sources: Akashic Edge elections database · PL 94-171 (2020) · ACS 5-yr B04006</div>
<div class="t" style="left:964.43px;top:1028px;font-size:13.46px;color:#c4b7b0;-webkit-text-stroke:0.54px #c4b7b0;letter-spacing:0.575px">akashicedge.com/state-house/tx-hd-37</div>
<div class="t" style="left:302.97px;top:928.01px;font-size:17.03px;color:#c4b7b0;-webkit-text-stroke:0.68px #c4b7b0;letter-spacing:1.361px">2024</div>
<div class="t" style="left:347.81px;top:928.01px;font-size:17.03px;color:#c4b7b0;-webkit-text-stroke:0.68px #c4b7b0">·</div>
<div class="t" style="left:356.46px;top:928.01px;font-size:17.03px;color:#c4b7b0;-webkit-text-stroke:0.68px #c4b7b0;letter-spacing:0.652px">Trump</div>
<div class="t" style="left:414.3px;top:928.01px;font-size:17.03px;color:#c4b7b0;-webkit-text-stroke:0.68px #c4b7b0;letter-spacing:0.201px">R<span style="margin-left:-.04em"> </span>+<span style="margin:0 -.035em 0 -.035em">1</span>0<span style="margin:0 -.035em">.</span>9</div>
<div class="t" style="left:475.41px;top:928.01px;font-size:17.03px;color:#c4b7b0;-webkit-text-stroke:0.68px #c4b7b0">·</div>
<div class="t" style="left:483.54px;top:928.01px;font-size:17.03px;color:#c4b7b0;-webkit-text-stroke:0.68px #c4b7b0;letter-spacing:0.458px">Dem 44.<span style="margin:0 -.035em 0 -.035em">1</span> <span style="display:inline-block;transform:scaleX(.76);transform-origin:0 50%;margin-right:-.21em">%</span></div>
<div class="t" style="left:576.81px;top:928.01px;font-size:17.03px;color:#c4b7b0;-webkit-text-stroke:0.68px #c4b7b0">·</div>
<div class="t" style="left:584.7px;top:928.01px;font-size:17.03px;color:#c4b7b0;-webkit-text-stroke:0.68px #c4b7b0;letter-spacing:0.632px">Rep 55<span style="margin:0 -.035em">.</span>0 <span style="display:inline-block;transform:scaleX(.76);transform-origin:0 50%;margin-right:-.21em">%</span></div>
</div>
</body></html>
